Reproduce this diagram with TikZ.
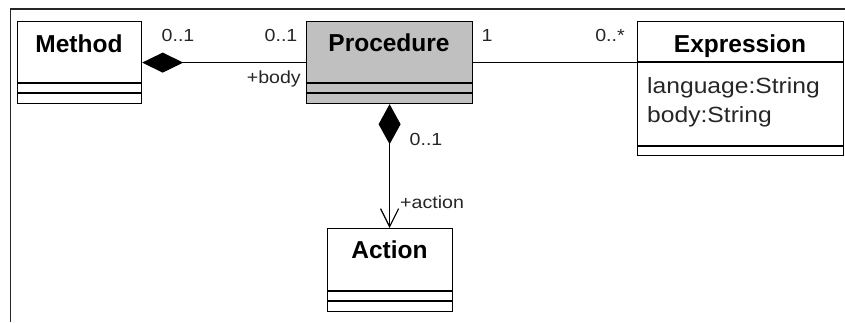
\documentclass[tikz,border=0pt]{standalone}
\usepackage{fontspec}
\setmainfont{Liberation Sans}
\newfontfamily\attrfont{Liberation Sans}[FakeStretch=1.12]
\usetikzlibrary{arrows.meta}
\definecolor{procgray}{RGB}{192,192,192}
\tikzset{
  classbox/.style={draw=black, line width=1.2pt, inner sep=0pt, anchor=north west},
  classtitle/.style={inner sep=0pt, anchor=base, font=\fontsize{24.5}{28}\selectfont\bfseries},
  attrtext/.style={inner sep=0pt, anchor=base west, font=\attrfont\fontsize{22}{28}\selectfont, text=black!85},
  multlabel/.style={inner sep=0pt, anchor=base, font=\attrfont\fontsize{17.5}{20}\selectfont, text=black!85},
  divider/.style={draw=black, line width=1.2pt},
  assoc/.style={draw=black, line width=1.2pt},
  framestyle/.style={draw=black!85, line width=1.6pt}
}
\begin{document}
\begin{tikzpicture}[x=1pt,y=-1pt]
\useasboundingbox (0,0) rectangle (845,322);
% frame
\coordinate (fbl) at (10.5,322);
\coordinate (ftl) at (10.5,9);
\coordinate (ftr) at (845,9);
\draw[framestyle] (fbl) -- (ftl) -- (ftr);

% Method
\node[classbox, minimum width=124pt, minimum height=82pt] (method) at (17,21) {};
\node[classtitle] (methodname) at (79,52) {Method};
\draw[divider] ([yshift=-62pt]method.north west) -- ([yshift=-62pt]method.north east);
\draw[divider] ([yshift=-72pt]method.north west) -- ([yshift=-72pt]method.north east);

% Procedure
\node[classbox, fill=procgray, minimum width=166pt, minimum height=82pt] (proc) at (306,21) {};
\node[classtitle] (procname) at (389,51) {Procedure};
\draw[divider] ([yshift=-62pt]proc.north west) -- ([yshift=-62pt]proc.north east);
\draw[divider] ([yshift=-72pt]proc.north west) -- ([yshift=-72pt]proc.north east);

% Expression
\node[classbox, minimum width=206pt, minimum height=134pt] (expr) at (637,21) {};
\node[classtitle] (exprname) at (740,52) {Expression};
\draw[divider] ([yshift=-41pt]expr.north west) -- ([yshift=-41pt]expr.north east);
\draw[divider] ([yshift=-125pt]expr.north west) -- ([yshift=-125pt]expr.north east);
\node[attrtext] (attrlang) at (647,93) {language:String};
\node[attrtext] (attrbody) at (647,122) {body:String};

% Action
\node[classbox, minimum width=125pt, minimum height=83pt] (action) at (327,228) {};
\node[classtitle] (actionname) at (389.5,258) {Action};
\draw[divider] ([yshift=-63pt]action.north west) -- ([yshift=-63pt]action.north east);
\draw[divider] ([yshift=-73pt]action.north west) -- ([yshift=-73pt]action.north east);

% connectors
\draw[assoc, {Diamond[length=41pt,width=20pt]}-] (method.east) -- (proc.west);
\draw[assoc] (proc.east) -- (proc.east -| expr.west);
\draw[assoc, {Diamond[length=40pt,width=22pt]}-{Straight Barb[length=18pt,width=18pt]}] (proc.south) -- (proc.south |- action.north);

% labels
\node[multlabel] (lm1) at (178,41) {0..1};
\node[multlabel] (lm2) at (281,41) {0..1};
\node[multlabel, anchor=base east] (lbody) at (301,83) {+body};
\node[multlabel] (lone) at (487,41) {1};
\node[multlabel] (lmany) at (610,41) {0..*};
\node[multlabel] (lvert) at (426,145) {0..1};
\node[multlabel, anchor=base west] (laction) at (400,208) {+action};
\end{tikzpicture}
\end{document}
